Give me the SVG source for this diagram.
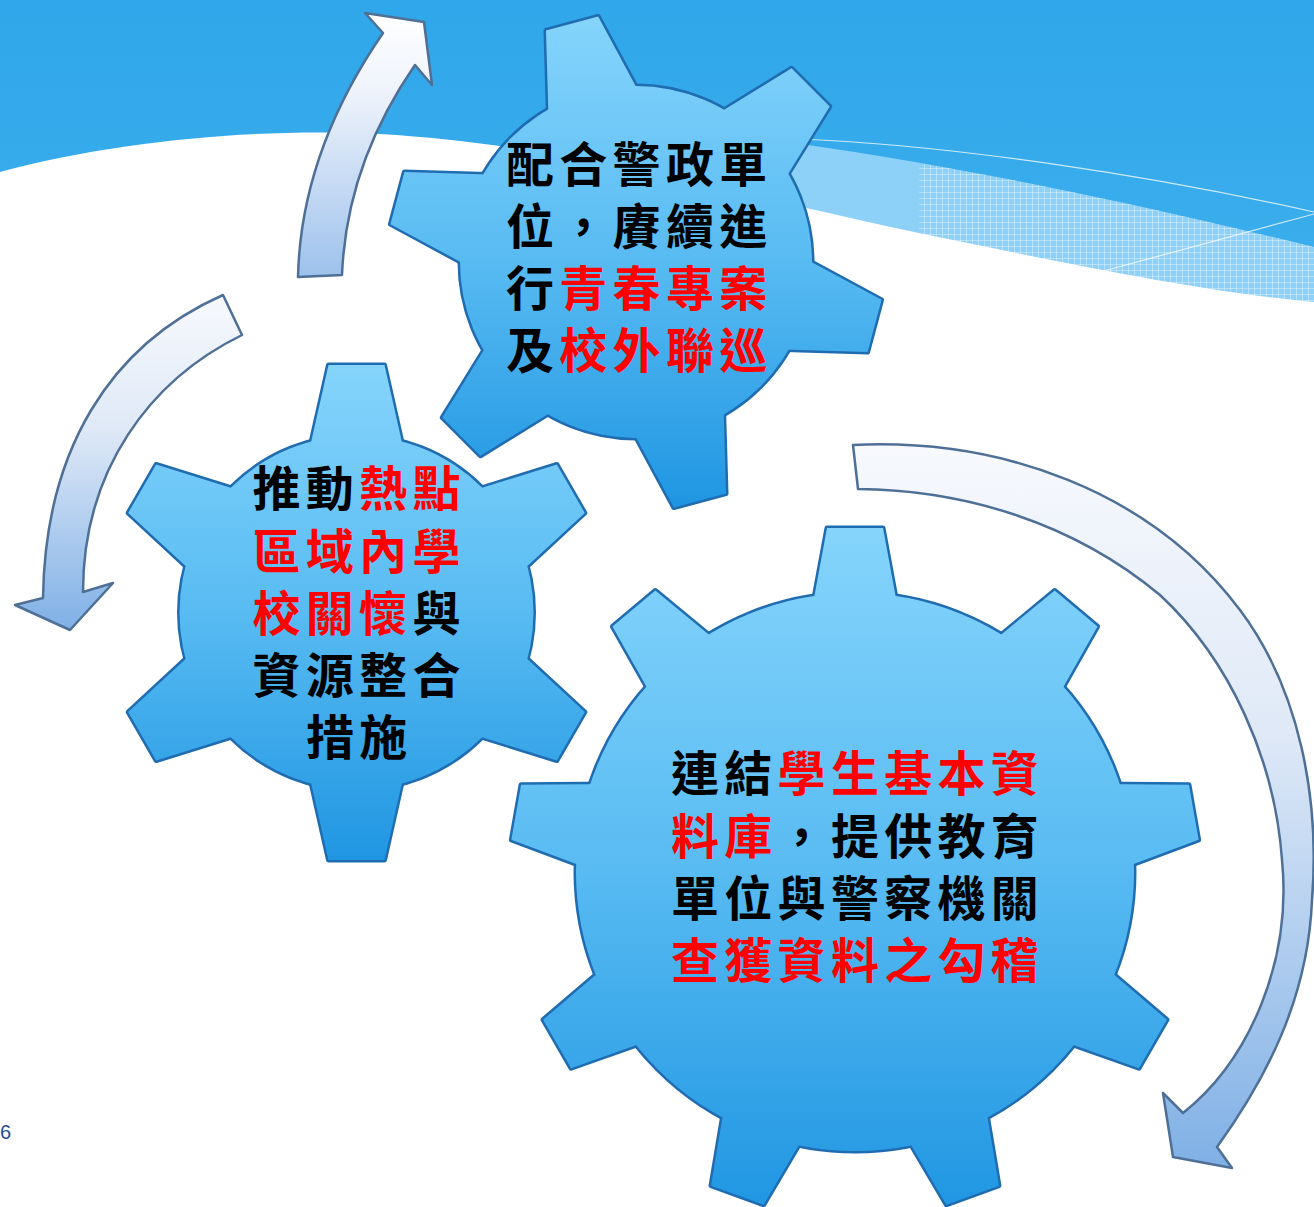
<svg xmlns="http://www.w3.org/2000/svg" xmlns:xlink="http://www.w3.org/1999/xlink" width="1314" height="1207" viewBox="0 0 1314 1207">
<style>
.gt{font-family:"Liberation Sans","Noto Sans CJK TC","Noto Sans CJK SC",sans-serif;font-weight:700;font-size:48px;letter-spacing:5.3px;fill:#000}
.r{fill:#ff0000}
.arrow{stroke:#4f7096;stroke-width:2.5;stroke-linejoin:round}
.edge{fill:#1f6cb0;stroke:#1f6cb0;stroke-width:5;stroke-linejoin:round}
</style>
<defs>
  <linearGradient id="sky" x1="0" y1="0" x2="0" y2="1">
    <stop offset="0" stop-color="#2fa7ea"/>
    <stop offset="1" stop-color="#66c4f5"/>
  </linearGradient>
  <linearGradient id="gearFill" x1="0" y1="0" x2="0" y2="1">
    <stop offset="0" stop-color="#86d5fc"/>
    <stop offset="0.5" stop-color="#58bbf2"/>
    <stop offset="1" stop-color="#1e95e2"/>
  </linearGradient>
  <linearGradient id="arrUp" x1="0" y1="0" x2="0" y2="1">
    <stop offset="0" stop-color="#ffffff"/>
    <stop offset="0.3" stop-color="#eef3fb"/>
    <stop offset="1" stop-color="#9dc1ec"/>
  </linearGradient>
  <linearGradient id="arrDown" x1="0" y1="0" x2="0" y2="1">
    <stop offset="0" stop-color="#f7f9fd"/>
    <stop offset="0.4" stop-color="#dfe9f7"/>
    <stop offset="1" stop-color="#7fb0e6"/>
  </linearGradient>
  <pattern id="grid" width="6" height="6" patternUnits="userSpaceOnUse">
    <path d="M0,0.5 H6 M0.5,0 V6" stroke="#ffffff" stroke-opacity="0.35" stroke-width="1" fill="none"/>
  </pattern>
  <g id="shapeA">
    <circle cx="636" cy="262" r="176"/>
    <polygon points="586,112 609,15 663,15 686,112" transform="rotate(-15 636 262)"/>
    <polygon points="586,112 609,15 663,15 686,112" transform="rotate(45 636 262)"/>
    <polygon points="586,112 609,15 663,15 686,112" transform="rotate(105 636 262)"/>
    <polygon points="586,112 609,15 663,15 686,112" transform="rotate(165 636 262)"/>
    <polygon points="586,112 609,15 663,15 686,112" transform="rotate(225 636 262)"/>
    <polygon points="586,112 609,15 663,15 686,112" transform="rotate(285 636 262)"/>
  </g>
  <g id="shapeB">
    <circle cx="356.5" cy="612.5" r="177"/>
    <polygon points="306.5,462.5 328.5,365 384.5,365 406.5,462.5"/>
    <polygon points="306.5,462.5 328.5,365 384.5,365 406.5,462.5" transform="rotate(60 356.5 612.5)"/>
    <polygon points="306.5,462.5 328.5,365 384.5,365 406.5,462.5" transform="rotate(120 356.5 612.5)"/>
    <polygon points="306.5,462.5 328.5,365 384.5,365 406.5,462.5" transform="rotate(180 356.5 612.5)"/>
    <polygon points="306.5,462.5 328.5,365 384.5,365 406.5,462.5" transform="rotate(240 356.5 612.5)"/>
    <polygon points="306.5,462.5 328.5,365 384.5,365 406.5,462.5" transform="rotate(300 356.5 612.5)"/>
  </g>
  <g id="shapeC">
    <circle cx="855" cy="872" r="279"/>
    <polygon points="809.6,622 827,528 883,528 900.4,622"/>
    <polygon points="809.6,622 827,528 883,528 900.4,622" transform="rotate(40 855 872)"/>
    <polygon points="809.6,622 827,528 883,528 900.4,622" transform="rotate(80 855 872)"/>
    <polygon points="809.6,622 827,528 883,528 900.4,622" transform="rotate(120 855 872)"/>
    <polygon points="809.6,622 827,528 883,528 900.4,622" transform="rotate(160 855 872)"/>
    <polygon points="809.6,622 827,528 883,528 900.4,622" transform="rotate(200 855 872)"/>
    <polygon points="809.6,622 827,528 883,528 900.4,622" transform="rotate(240 855 872)"/>
    <polygon points="809.6,622 827,528 883,528 900.4,622" transform="rotate(280 855 872)"/>
    <polygon points="809.6,622 827,528 883,528 900.4,622" transform="rotate(320 855 872)"/>
  </g>
  <mask id="mA" maskUnits="userSpaceOnUse" x="0" y="0" width="1314" height="1207"><use xlink:href="#shapeA" href="#shapeA" fill="#fff"/></mask>
  <mask id="mB" maskUnits="userSpaceOnUse" x="0" y="0" width="1314" height="1207"><use xlink:href="#shapeB" href="#shapeB" fill="#fff"/></mask>
  <mask id="mC" maskUnits="userSpaceOnUse" x="0" y="0" width="1314" height="1207"><use xlink:href="#shapeC" href="#shapeC" fill="#fff"/></mask>
</defs>

<g id="background">
  <rect x="0" y="0" width="1314" height="1207" fill="url(#sky)"/>
  <path d="M640,125 C800,140 1000,170 1314,247 L1314,420 L640,420 Z" fill="#8dd1f8"/>
  <path d="M919.25,162.75 C1028.5,181.75 1157,208.5 1314,247 L1314,420 L919.25,420 Z" fill="url(#grid)"/>
  <path d="M0,172 C120,140 260,128 380,134 C560,145 700,185 900,229 C1050,260 1200,292 1314,302 L1314,1207 L0,1207 Z" fill="#ffffff"/>
  <path d="M800,139 C950,145 1150,175 1314,212" fill="none" stroke="#ffffff" stroke-opacity="0.75" stroke-width="1.2"/>
  <path d="M1100,272 L1314,214" fill="none" stroke="#ffffff" stroke-opacity="0.75" stroke-width="1.2"/>
  <text x="0" y="1139" font-family="Liberation Sans, Arial, sans-serif" font-size="20" fill="#1f4e9e">6</text>
</g>

<g id="connectors">
  <path id="arrow-up" class="arrow" fill="url(#arrUp)" d="M298,277 C300,190 330,110 383,33 L365,13 L424,22 L432,85 L415,65 C370,130 345,200 342,275 Z"/>
  <path id="arrow-left" class="arrow" fill="url(#arrDown)" d="M223,295 C110,345 45,450 43,598 L15,605 L70,630 L113,583 L83,592 C83,470 150,380 242,335 Z"/>
  <path id="arrow-right" class="arrow" fill="url(#arrDown)" d="M853,445 C1000,438 1150,490 1240,610 C1300,690 1320,800 1312,900 C1308,1000 1265,1080 1217,1147 L1232,1168 L1173,1157 L1163,1093 L1183,1113 C1250,1060 1292,960 1282,860 C1275,760 1230,660 1160,595 C1070,520 960,490 858,489 Z"/>
</g>

<g id="gear-top">
  <use xlink:href="#shapeA" href="#shapeA" class="edge"/>
  <rect x="380" y="10" width="510" height="502" fill="url(#gearFill)" mask="url(#mA)"/>
  <text class="gt" x="506" y="182">配合警政單</text>
  <text class="gt" x="506" y="244">位，賡續進</text>
  <text class="gt" x="506" y="306">行<tspan class="r">青春專案</tspan></text>
  <text class="gt" x="506" y="368">及<tspan class="r">校外聯巡</tspan></text>
</g>

<g id="gear-left">
  <use xlink:href="#shapeB" href="#shapeB" class="edge"/>
  <rect x="120" y="358" width="475" height="510" fill="url(#gearFill)" mask="url(#mB)"/>
  <text class="gt" x="252.5" y="506">推動<tspan class="r">熱點</tspan></text>
  <text class="gt r" x="252.5" y="569">區域內學</text>
  <text class="gt" x="252.5" y="631"><tspan class="r">校關懷</tspan>與</text>
  <text class="gt" x="252.5" y="693">資源整合</text>
  <text class="gt" x="306" y="755">措施</text>
</g>

<g id="gear-bottom">
  <use xlink:href="#shapeC" href="#shapeC" class="edge"/>
  <rect x="500" y="520" width="710" height="700" fill="url(#gearFill)" mask="url(#mC)"/>
  <text class="gt" x="671" y="791">連結<tspan class="r">學生基本資</tspan></text>
  <text class="gt" x="671" y="854"><tspan class="r">料庫</tspan>，提供教育</text>
  <text class="gt" x="671" y="916">單位與警察機關</text>
  <text class="gt r" x="671" y="978">查獲資料之勾稽</text>
</g>
</svg>
